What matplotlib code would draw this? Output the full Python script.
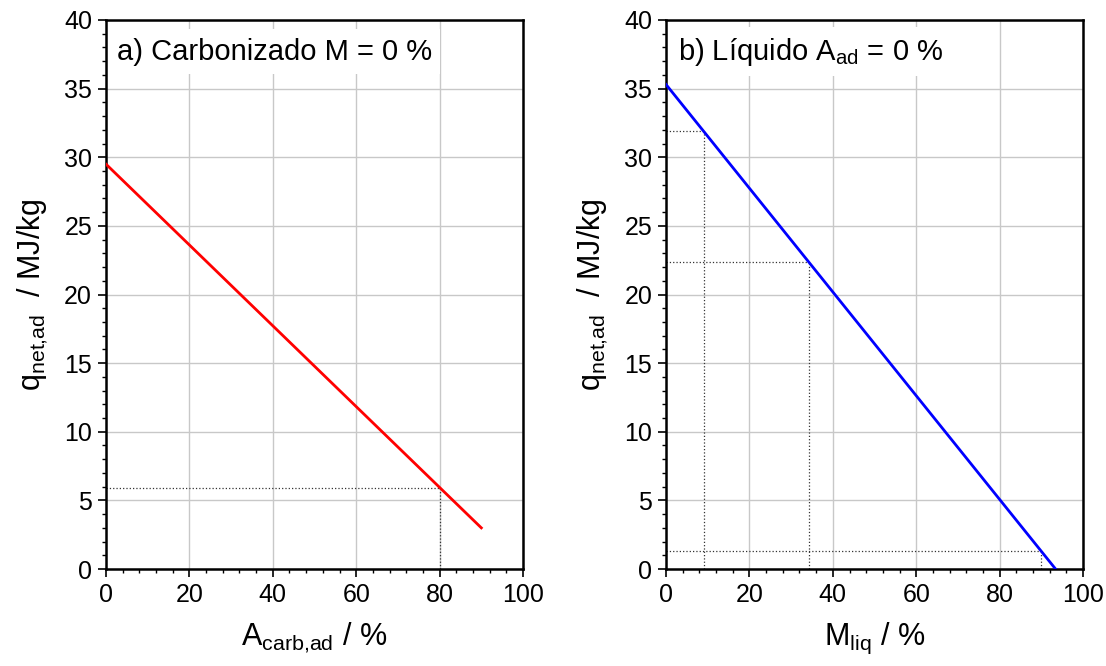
import matplotlib
matplotlib.use("Agg")
import matplotlib.pyplot as plt
from matplotlib.ticker import MultipleLocator

plt.rcParams['font.family'] = ['Liberation Sans', 'DejaVu Sans']
plt.rcParams['mathtext.fontset'] = 'custom'
plt.rcParams['mathtext.rm'] = 'Liberation Sans'

# Panel a) char, moisture-free: heating value vs ash content
ash_carb = [0, 90]
q_carb = [29.5, 3.0]
ref_a_x = [80]
ref_a_y = [5.9]

# Panel b) liquid, ash-free: heating value vs moisture content
m_liq = [0, 93.4]
q_liq = [35.3, 0.0]
ref_b_x = [9.0, 34.2, 90.0]
ref_b_y = [31.9, 22.4, 1.3]

panel_text = ["a) Carbonizado M = 0 %", "b) Líquido A$_{\\mathregular{ad}}$ = 0 %"]
x_labels = ["A$_{\\mathregular{carb{,}ad}}$ / %", "M$_{\\mathregular{liq}}$ / %"]
y_label = "q$_{\\mathregular{net{,}ad}}$  / MJ/kg"

fig = plt.figure(figsize=(11.06, 6.66), dpi=100)
ax1 = fig.add_axes([0.0958, 0.1456, 0.3771, 0.8244])
ax2 = fig.add_axes([0.6022, 0.1456, 0.3771, 0.8244])

panels = [
    (ax1, ash_carb, q_carb, 'red', ref_a_x, ref_a_y, 0.026),
    (ax2, m_liq, q_liq, 'blue', ref_b_x, ref_b_y, 0.029),
]

for i, (ax, xs, ys, col, rx, ry, tx) in enumerate(panels):
    ax.set_xlim(0, 100)
    ax.set_ylim(0, 40)
    ax.xaxis.set_major_locator(MultipleLocator(20))
    ax.xaxis.set_minor_locator(MultipleLocator(4))
    ax.yaxis.set_major_locator(MultipleLocator(5))
    ax.yaxis.set_minor_locator(MultipleLocator(1))
    ax.grid(True, which='major', color='#c8c8c8', linewidth=1.0, zorder=0)
    ax.set_axisbelow(True)
    for s in ax.spines.values():
        s.set_linewidth(1.8)
        s.set_color('black')
    ax.tick_params(which='major', direction='out', length=6, width=1.2,
                   labelsize=18, pad=4)
    ax.tick_params(which='minor', direction='out', length=3, width=1.0)

    # dotted guides from the axes to the read-off points
    for x0, y0 in zip(rx, ry):
        ax.plot([0, x0], [y0, y0], linestyle=':', color='#333333', linewidth=0.9, zorder=2)
        ax.plot([x0, x0], [0, y0], linestyle=':', color='#333333', linewidth=0.9, zorder=2)

    ax.plot(xs, ys, color=col, linewidth=2.0, zorder=3)

    ax.text(tx, 0.942, panel_text[i], transform=ax.transAxes, fontsize=21,
            ha='left', va='center', zorder=4,
            bbox=dict(facecolor='white', edgecolor='none', pad=6))

    ax.set_xlabel(x_labels[i], fontsize=22, labelpad=10)
    ax.set_ylabel(y_label, fontsize=22, labelpad=10)

fig.savefig("out.png", dpi=100)
